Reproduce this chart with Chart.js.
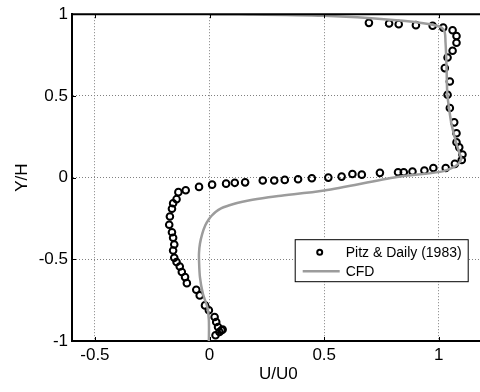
<!DOCTYPE html>
<html>
<head>
<meta charset="utf-8">
<script src="https://cdn.jsdelivr.net/npm/chart.js@4/dist/chart.umd.min.js"></script>
<style>
  html, body { margin: 0; padding: 0; background: #fff; overflow: hidden; }
  #wrap { width: 490px; height: 392px; }
</style>
</head>
<body>
<div id="wrap"><canvas id="c" width="490" height="392"></canvas></div>
<script>
// ---- data ----
const expLabel = 'Pitz & Daily (1983)';
const cfdLabel = 'CFD';
const expU = [0.695, 0.783, 0.825, 0.900, 0.973, 1.019, 1.060, 1.077, 1.077, 1.060, 1.038, 1.026, 1.048, 1.038, 1.048, 1.067, 1.077, 1.077, 1.089, 1.103, 1.100, 1.070, 1.030, 0.976, 0.937, 0.885, 0.847, 0.822, 0.743, 0.664, 0.623, 0.576, 0.518, 0.446, 0.386, 0.328, 0.282, 0.232, 0.155, 0.110, 0.072, 0.011, -0.046, -0.104, -0.136, -0.144, -0.159, -0.164, -0.173, -0.176, -0.164, -0.159, -0.154, -0.159, -0.154, -0.144, -0.130, -0.121, -0.107, -0.099, -0.058, -0.043, -0.020, -0.003, 0.022, 0.029, 0.037, 0.052, 0.057, 0.043, 0.026];
const expY = [0.947, 0.943, 0.939, 0.933, 0.929, 0.918, 0.902, 0.867, 0.825, 0.776, 0.735, 0.670, 0.588, 0.507, 0.426, 0.338, 0.271, 0.216, 0.185, 0.141, 0.108, 0.084, 0.059, 0.059, 0.043, 0.037, 0.033, 0.033, 0.029, 0.018, 0.022, 0.006, 0.000, -0.004, -0.010, -0.014, -0.018, -0.018, -0.029, -0.032, -0.037, -0.043, -0.057, -0.077, -0.089, -0.132, -0.157, -0.191, -0.238, -0.289, -0.334, -0.368, -0.409, -0.446, -0.491, -0.517, -0.544, -0.578, -0.609, -0.646, -0.686, -0.721, -0.782, -0.812, -0.853, -0.884, -0.914, -0.934, -0.930, -0.945, -0.965];
const cfdU = [0.000, 0.127, 0.500, 0.800, 0.962, 1.012, 1.026, 1.029, 1.031, 1.034, 1.037, 1.045, 1.055, 1.067, 1.077, 1.090, 1.098, 1.085, 1.063, 1.005, 0.818, 0.500, 0.300, 0.257, 0.170, 0.120, 0.083, 0.050, 0.026, 0.010, -0.003, -0.018, -0.032, -0.042, -0.046, -0.046, -0.042, -0.029, -0.010, -0.003, -0.003];
const cfdY = [1.000, 1.000, 0.990, 0.965, 0.939, 0.918, 0.888, 0.830, 0.776, 0.650, 0.511, 0.420, 0.328, 0.260, 0.206, 0.150, 0.115, 0.085, 0.063, 0.035, 0.004, -0.079, -0.112, -0.120, -0.140, -0.155, -0.171, -0.188, -0.210, -0.232, -0.255, -0.290, -0.344, -0.405, -0.460, -0.507, -0.609, -0.711, -0.792, -0.874, -1.000];
const xTicks = [-0.5, 0, 0.5, 1];
const yTicks = [-1, -0.5, 0, 0.5, 1];
const xRange = [-0.6, 1.2];
const yRange = [-1, 1];
const xTitle = 'U/U0';
const yTitle = 'Y/H';

// ---- styles ----
const FONT = '"Liberation Sans", Arial, Helvetica, sans-serif';
const CFD_COLOR = '#9c9c9c';
const GRID_COLOR = '#808080';

const expData = expU.map((u, i) => ({ x: u, y: expY[i] }));
const cfdData = cfdU.map((u, i) => ({ x: u, y: cfdY[i] }));

const frame = {
  id: 'frame',
  afterDraw(chart) {
    const { ctx, chartArea: a, scales } = chart;
    ctx.save();
    ctx.strokeStyle = '#000';
    ctx.lineWidth = 2;
    ctx.beginPath();
    ctx.moveTo(a.left, a.top); ctx.lineTo(a.right + 1, a.top);
    ctx.moveTo(a.right, a.top); ctx.lineTo(a.right, a.bottom);
    ctx.stroke();
    ctx.lineWidth = 1;
    ctx.beginPath();
    const tl = 4;
    xTicks.forEach(v => {
      const px = Math.round(scales.x.getPixelForValue(v)) + 0.5;
      ctx.moveTo(px, a.bottom); ctx.lineTo(px, a.bottom - tl);
      ctx.moveTo(px, a.top); ctx.lineTo(px, a.top + tl);
    });
    yTicks.forEach(v => {
      const py = Math.round(scales.y.getPixelForValue(v)) + 0.5;
      ctx.moveTo(a.left, py); ctx.lineTo(a.left + tl, py);
      ctx.moveTo(a.right, py); ctx.lineTo(a.right - tl, py);
    });
    ctx.stroke();

    // legend box
    const ds = chart.data.datasets;
    const bx = a.right - 190, by = a.top + 225, bw = 173, bh = 42;
    ctx.fillStyle = '#fff';
    ctx.fillRect(bx, by, bw, bh);
    ctx.strokeStyle = '#000';
    ctx.lineWidth = 1;
    ctx.strokeRect(bx + 0.5, by + 0.5, bw, bh);
    ctx.font = '14px ' + FONT;
    ctx.textBaseline = 'middle';
    ctx.textAlign = 'left';
    ctx.fillStyle = '#000';
    const r1 = by + 13, r2 = by + 32;
    ctx.beginPath();
    ctx.lineWidth = 2;
    ctx.strokeStyle = ds[0].borderColor;
    ctx.arc(bx + 25, r1, 2.5, 0, Math.PI * 2);
    ctx.stroke();
    ctx.fillText(ds[0].label, bx + 51, r1 + 1);
    ctx.beginPath();
    ctx.strokeStyle = ds[1].borderColor;
    ctx.lineWidth = ds[1].borderWidth;
    ctx.moveTo(bx + 8, r2); ctx.lineTo(bx + 45, r2);
    ctx.stroke();
    ctx.fillText(ds[1].label, bx + 51, r2 + 1);
    ctx.restore();
  }
};

new Chart(document.getElementById('c'), {
  type: 'scatter',
  data: {
    datasets: [
      {
        label: expLabel,
        data: expData,
        pointRadius: 3.3,
        pointHoverRadius: 3.3,
        pointBorderWidth: 2,
        borderColor: '#000',
        pointBorderColor: '#000',
        pointBackgroundColor: 'rgba(255,255,255,0)',
        backgroundColor: 'rgba(255,255,255,0)',
        showLine: false,
        order: 2
      },
      {
        label: cfdLabel,
        data: cfdData,
        showLine: true,
        borderColor: CFD_COLOR,
        borderWidth: 2.5,
        pointRadius: 0,
        tension: 0.3,
        fill: false,
        order: 1
      }
    ]
  },
  options: {
    responsive: false,
    animation: false,
    devicePixelRatio: 1,
    layout: { padding: { top: 13, right: 2, left: 0, bottom: 0 } },
    plugins: { legend: { display: false }, tooltip: { enabled: false } },
    scales: {
      x: {
        type: 'linear',
        min: xRange[0], max: xRange[1],
        afterBuildTicks: s => { s.ticks = xTicks.map(v => ({ value: v })); },
        afterFit: s => { s.height = 51; },
        ticks: {
          callback: v => String(v),
          color: '#000',
          font: { family: FONT, size: 17 },
          padding: 4,
          maxRotation: 0,
          autoSkip: false
        },
        grid: { color: GRID_COLOR, lineWidth: 1, drawTicks: false },
        border: { display: true, color: '#000', width: 2, dash: [1, 2] },
        title: {
          display: true, text: xTitle, color: '#000',
          font: { family: FONT, size: 17 },
          padding: { top: 0, bottom: 7 }
        }
      },
      y: {
        type: 'linear',
        min: yRange[0], max: yRange[1],
        afterBuildTicks: s => { s.ticks = yTicks.map(v => ({ value: v })); },
        afterFit: s => { s.width = 72; },
        ticks: {
          callback: v => String(v),
          color: '#000',
          font: { family: FONT, size: 17 },
          padding: 4,
          autoSkip: false
        },
        grid: { color: GRID_COLOR, lineWidth: 1, drawTicks: false },
        border: { display: true, color: '#000', width: 2, dash: [1, 2] },
        title: {
          display: true, text: yTitle, color: '#000',
          font: { family: FONT, size: 17 },
          padding: { top: 12, bottom: 0 }
        }
      }
    }
  },
  plugins: [frame]
});
</script>
</body>
</html>
